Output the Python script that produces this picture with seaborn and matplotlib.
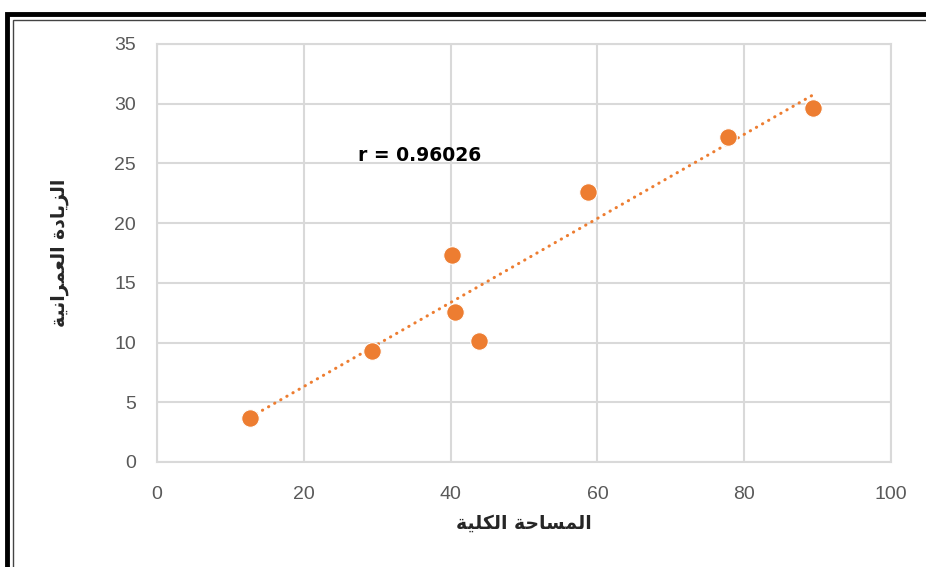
import matplotlib
matplotlib.use("Agg")
import matplotlib.pyplot as plt
import matplotlib.patches as patches
import seaborn as sb
import numpy as np
import pandas as pd

# data
total_area = [12.7, 29.3, 40.2, 40.6, 43.9, 58.7, 77.8, 89.4]
urban_growth = [3.7, 9.3, 17.3, 12.6, 10.1, 22.6, 27.2, 29.6]
x_ticks = [0, 20, 40, 60, 80, 100]
y_ticks = [0, 5, 10, 15, 20, 25, 30, 35]
x_label = 'المساحة الكلية'
y_label = 'الزيادة العمرانية'
r_label = 'r = 0.96026'

# matplotlib has no arabic shaping, so pick the contextual forms by hand
# letter: (isolated, final, initial, medial) - None means it does not join to the next letter
FORMS = {
    'ا': (0xFE8D, 0xFE8E, None, None),
    'ل': (0xFEDD, 0xFEDE, 0xFEDF, 0xFEE0),
    'م': (0xFEE1, 0xFEE2, 0xFEE3, 0xFEE4),
    'س': (0xFEB1, 0xFEB2, 0xFEB3, 0xFEB4),
    'ح': (0xFEA1, 0xFEA2, 0xFEA3, 0xFEA4),
    'ة': (0xFE93, 0xFE94, None, None),
    'ك': (0xFED9, 0xFEDA, 0xFEDB, 0xFEDC),
    'ي': (0xFEF1, 0xFEF2, 0xFEF3, 0xFEF4),
    'ز': (0xFEAF, 0xFEB0, None, None),
    'د': (0xFEA9, 0xFEAA, None, None),
    'ع': (0xFEC9, 0xFECA, 0xFECB, 0xFECC),
    'ر': (0xFEAD, 0xFEAE, None, None),
    'ن': (0xFEE5, 0xFEE6, 0xFEE7, 0xFEE8),
}


def shape_arabic(text):
    words = []
    for word in text.split(' '):
        out = []
        for i, ch in enumerate(word):
            iso, fin, ini, med = FORMS[ch]
            prev_joins = i > 0 and FORMS[word[i - 1]][2] is not None
            next_joins = ini is not None and i < len(word) - 1
            if prev_joins and next_joins:
                code = med
            elif prev_joins:
                code = fin
            elif next_joins:
                code = ini
            else:
                code = iso
            out.append(chr(code))
        words.append(''.join(reversed(out)))
    return ' '.join(reversed(words))


df = pd.DataFrame({'area': total_area, 'growth': urban_growth})

sb.set_style('white')
plt.rcParams['font.family'] = ['Liberation Sans', 'DejaVu Sans']

orange = '#ED7D31'
grid_color = '#D9D9D9'

fig = plt.figure(figsize=(9.26, 5.67), dpi=100)
fig.patch.set_facecolor('white')
ax = fig.add_axes([157 / 926, 1 - 462 / 567, (891 - 157) / 926, (462 - 44) / 567])

sb.regplot(data=df, x='area', y='growth', ax=ax, scatter=False, ci=None, truncate=True,
           line_kws={'color': orange, 'linewidth': 2.2, 'linestyle': (0, (0.1, 2.2)),
                     'dash_capstyle': 'round', 'zorder': 2})
sb.scatterplot(data=df, x='area', y='growth', ax=ax, color=orange, s=160,
               edgecolor='white', linewidth=0.8, zorder=3)

ax.set_xlim(0, 100)
ax.set_ylim(0, 35)
ax.set_xticks(x_ticks)
ax.set_yticks(y_ticks)
ax.grid(True, color=grid_color, linewidth=1.5, zorder=0)
ax.set_axisbelow(True)
for s in ax.spines.values():
    s.set_color(grid_color)
    s.set_linewidth(1.5)
ax.tick_params(length=0, labelsize=14, labelcolor='#595959')
ax.tick_params(axis='x', pad=17)
ax.tick_params(axis='y', pad=15)

ax.set_xlabel(shape_arabic(x_label), fontsize=13.5, fontweight='bold',
              family=['DejaVu Sans'], labelpad=8)
ax.set_ylabel(shape_arabic(y_label), fontsize=13.5, fontweight='bold',
              family=['DejaVu Sans'], labelpad=33)

ax.text(27.4, 25.7, r_label, fontsize=13.5, fontweight='bold', ha='left', va='center',
        color='black', family=['DejaVu Sans'])

# double frame around the chart like the excel screenshot
fig.add_artist(patches.Rectangle((7 / 926, -0.1), 1.2, 1 - 14 / 567 + 0.1, transform=fig.transFigure,
                                 fill=False, edgecolor='black', linewidth=3.5))
fig.add_artist(patches.Rectangle((12.5 / 926, -0.1), 1.2, 1 - 19.5 / 567 + 0.1, transform=fig.transFigure,
                                 fill=False, edgecolor='#444444', linewidth=1))

fig.savefig('out.png', dpi=100, facecolor='white')
